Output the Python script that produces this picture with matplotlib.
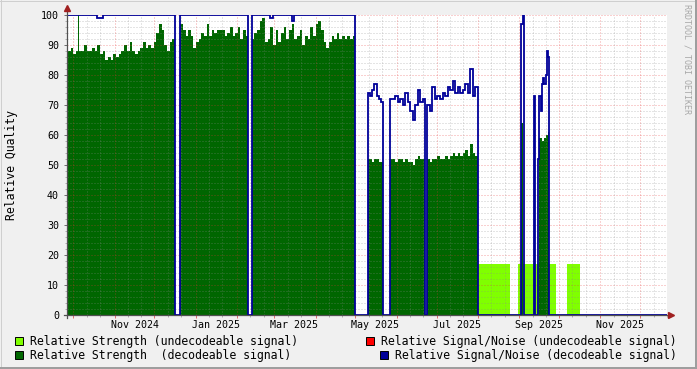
import numpy as np
import matplotlib
matplotlib.use("Agg")
import matplotlib.pyplot as plt
import matplotlib.dates as mdates
from matplotlib.patches import Rectangle
from matplotlib.lines import Line2D

LIGHT_GREEN = "#80ff00"
DARK_GREEN = "#006600"
RED = "#ff0000"
BLUE = "#000099"
BACK = "#f0f0f0"
MONO = "DejaVu Sans Mono"

X_START, X_END = "2024-09-26 07:00", "2025-12-16 14:00"

# recorded stretches: (start, end); values are evenly spaced across each stretch
SEG_A = ("2024-09-25 00:00", "2024-12-16 10:00")
STRENGTH_A = [89, 88, 89, 87, 88, 88, 88, 90, 88, 88, 89, 88, 90, 87, 88, 85, 86, 85, 87, 86,
              87, 88, 90, 88, 91, 88, 87, 88, 89, 91, 89, 90, 89, 91, 94, 97, 95, 90, 88, 91, 92]
SNR_A = [100, 100, 100, 100, 100, 100, 100, 100, 100, 100, 100, 100, 99, 99, 100, 100, 100, 100,
         100, 100, 100, 100, 100, 100, 100, 100, 100, 100, 100, 100, 100, 100, 100, 100, 100, 100,
         100, 100, 100, 100, 100]

SEG_B = ("2024-12-20 12:00", "2025-02-09 10:00")
STRENGTH_B = [97, 95, 93, 95, 93, 89, 91, 92, 94, 93, 97, 93, 95, 94, 95, 95, 95, 93, 94, 96,
              93, 94, 96, 92, 95, 93]
SNR_B = [100, 100, 100, 100, 100, 100, 100, 100, 100, 100, 100, 100, 100, 100, 100, 100, 100,
         100, 100, 100, 100, 100, 100, 100, 100, 100]

SEG_C = ("2025-02-11 22:00", "2025-05-01 00:00")
STRENGTH_C = [92, 94, 95, 98, 99, 91, 92, 96, 90, 95, 91, 94, 96, 92, 95, 97, 92, 93, 95, 90,
              93, 92, 96, 93, 97, 98, 95, 91, 89, 91, 93, 92, 94, 92, 93, 92, 93, 92, 93]
SNR_C = [100, 100, 100, 100, 100, 100, 100, 99, 100, 100, 100, 100, 100, 100, 100, 98, 100, 100,
         100, 100, 100, 100, 100, 100, 100, 100, 100, 100, 100, 100, 100, 100, 100, 100, 100, 100,
         100, 100, 100]

SEG_D = ("2025-05-10 05:00", "2025-05-21 19:00")
STRENGTH_D = [52, 52, 51, 52, 52, 51, 51]
SNR_D = [74, 73, 75, 77, 73, 72, 71]

SEG_E = ("2025-05-27 00:00", "2025-06-22 14:00")
STRENGTH_E = [52, 52, 51, 52, 52, 51, 52, 51, 51, 50, 52, 53, 52, 52]
SNR_E = [72, 72, 73, 71, 72, 70, 74, 71, 68, 65, 70, 75, 71, 72]

SEG_F = ("2025-06-24 00:00", "2025-08-01 00:00")
STRENGTH_F = [52, 51, 52, 52, 53, 52, 52, 53, 52, 53, 54, 53, 54, 53, 54, 55, 53, 57, 54, 53]
SNR_F = [70, 68, 76, 72, 73, 72, 74, 73, 76, 75, 78, 74, 76, 74, 75, 77, 74, 82, 73, 76]

# September bursts
SEG_G1 = ("2025-09-02 12:00", "2025-09-04 00:00")
STRENGTH_G1 = [64]
SEG_G2 = ("2025-09-16 02:00", "2025-09-23 12:00")
STRENGTH_G2 = [59, 59, 58, 59, 59, 60, 61]
SEG_S1 = ("2025-09-02 12:00", "2025-09-04 12:00")
SNR_S1 = [97, 100]
SEG_S2 = ("2025-09-11 22:00", "2025-09-13 02:00")
SNR_S2 = [73]
SEG_S3 = ("2025-09-15 05:00", "2025-09-23 14:00")
SNR_S3 = [52, 73, 68, 77, 79, 77, 80, 88, 86]

# single-sample spike in the first stretch
SEG_SPIKE = ("2024-10-04 12:00", "2024-10-05 06:00")
STRENGTH_SPIKE = [100]

# undecodeable signal strength
UNDEC_SEGS = [("2025-08-01 00:00", "2025-08-25 08:00"),
              ("2025-08-31 07:00", "2025-09-28 19:00"),
              ("2025-10-06 17:00", "2025-10-16 14:00")]
UNDEC_STRENGTH = [17, 17, 17]

X_LABELS = ["Nov 2024", "Jan 2025", "Mar 2025", "May 2025", "Jul 2025", "Sep 2025", "Nov 2025"]
X_LABEL_MONTHS = ["2024-11-01", "2025-01-01", "2025-03-01", "2025-05-01", "2025-07-01",
                  "2025-09-01", "2025-11-01"]


def edges(span, n):
    t0, t1 = (mdates.datestr2num(s) for s in span)
    return t0 + (t1 - t0) * np.arange(n + 1) / n


def area(ax, span, vals, color):
    e = edges(span, len(vals))
    ax.fill_between(e, np.r_[vals, vals[-1]], step="post", color=color, lw=0, zorder=2)


W, H = 697, 369
fig = plt.figure(figsize=(W / 100, H / 100), dpi=100, facecolor=BACK)
ax = fig.add_axes([67 / W, 1 - 315 / H, 600 / W, 300 / H])
ax.set_facecolor("white")
x0, x1 = mdates.datestr2num(X_START), mdates.datestr2num(X_END)
ax.set_xlim(x0, x1)
ax.set_ylim(0, 100)
for s in ax.spines.values():
    s.set_visible(False)

# areas
for span, v in zip(UNDEC_SEGS, UNDEC_STRENGTH):
    area(ax, span, [v], LIGHT_GREEN)
for span, vals in [(SEG_A, STRENGTH_A), (SEG_B, STRENGTH_B), (SEG_C, STRENGTH_C),
                   (SEG_D, STRENGTH_D), (SEG_E, STRENGTH_E), (SEG_F, STRENGTH_F),
                   (SEG_G1, STRENGTH_G1), (SEG_G2, STRENGTH_G2), (SEG_SPIKE, STRENGTH_SPIKE)]:
    area(ax, span, vals, DARK_GREEN)

# SNR line, zero between stretches
t, v = [x0 - 5], [0]
for span, vals in [(SEG_A, SNR_A), (SEG_B, SNR_B), (SEG_C, SNR_C), (SEG_D, SNR_D),
                   (SEG_E, SNR_E), (SEG_F, SNR_F), (SEG_S1, SNR_S1), (SEG_S2, SNR_S2),
                   (SEG_S3, SNR_S3)]:
    e = edges(span, len(vals))
    t.extend(e[:-1]); v.extend(vals)
    t.append(e[-1]); v.append(0)
t.append(x1 + 5); v.append(0)
ax.step(t, v, where="post", color=BLUE, lw=1.3, zorder=4, solid_joinstyle="miter")

# grid (dotted, drawn over the areas)
minor_c = (0.55, 0.55, 0.55, 0.45)
major_c = (0.9, 0.2, 0.2, 0.45)
months = np.arange("2024-10", "2026-01", dtype="datetime64[M]").astype("datetime64[D]")
major_x = mdates.date2num(months)
minor_x = mdates.date2num(np.concatenate([months + 10, months + 20]))
kw = dict(lw=0.72, zorder=3, dashes=(1, 2), dash_capstyle="butt")
for y in range(2, 101, 2):
    ax.axhline(y, color=major_c if y % 10 == 0 else minor_c, **kw)
for x in minor_x:
    ax.axvline(x, color=minor_c, **kw)
for x in major_x:
    ax.axvline(x, color=major_c, **kw)

# ticks
ax.set_yticks(range(0, 101, 10))
ax.set_yticks(range(0, 101, 2), minor=True)
ax.set_yticklabels([str(y) for y in range(0, 101, 10)], fontfamily=MONO, fontsize=7.2)
ax.tick_params(axis="y", which="major", length=2.2, width=0.72, color="#707070", pad=3.6)
ax.tick_params(axis="y", which="minor", length=1.4, width=0.72, color="#b0b0b0")
ax.set_xticks(major_x)
ax.set_xticks(minor_x, minor=True)
ax.set_xticklabels([])
ax.tick_params(axis="x", which="major", length=2.2, width=0.72, color="#e07070")
ax.tick_params(axis="x", which="minor", length=1.4, width=0.72, color="#b0b0b0")
xt = ax.get_xaxis_transform()
for lab, m in zip(X_LABELS, X_LABEL_MONTHS):
    ax.text(mdates.datestr2num(m) + 15, -0.034, lab, transform=xt, ha="center", va="center",
            fontfamily=MONO, fontsize=7.2, color="black")

# axes with arrows
axis_c = "#505050"
ax.add_line(Line2D([0, 0], [-0.01, 1.012], transform=ax.transAxes, color=axis_c, lw=0.9,
                   clip_on=False, zorder=5))
ax.add_line(Line2D([-0.005, 1.002], [0, 0], transform=ax.transAxes, color=axis_c, lw=0.9,
                   clip_on=False, zorder=5))
ax.plot([0], [1.022], marker="^", ms=4, color="#a02020", mec="#a02020", transform=ax.transAxes,
        clip_on=False, zorder=6)
ax.plot([1.007], [0], marker=">", ms=4, color="#a02020", mec="#a02020", transform=ax.transAxes,
        clip_on=False, zorder=6)

# labels
fig.text(12 / W, 1 - 165 / H, "Relative Quality", rotation=90, ha="center", va="center",
         fontfamily=MONO, fontsize=8.3)
fig.text(687 / W, 1 - 4 / H, "RRDTOOL / TOBI OETIKER", rotation=270, ha="center", va="top",
         fontfamily=MONO, fontsize=6, color="#a8a8a8")

# legend
legend = [(15, 341, LIGHT_GREEN, "Relative Strength (undecodeable signal)"),
          (15, 355, DARK_GREEN, "Relative Strength  (decodeable signal)"),
          (366, 341, RED, "Relative Signal/Noise (undecodeable signal)"),
          (380, 355, BLUE, "Relative Signal/Noise (decodeable signal)")]
for lx, ly, col, txt in legend:
    fig.patches.append(Rectangle((lx / W, 1 - (ly + 4) / H), 8 / W, 8 / H, transform=fig.transFigure,
                                 facecolor=col, edgecolor="black", lw=0.7))
    fig.text((lx + 15) / W, 1 - ly / H, txt, ha="left", va="center", fontfamily=MONO, fontsize=8.3)

# frame shading
fig.add_artist(Line2D([0, 1], [1 - 0.5 / H] * 2, transform=fig.transFigure, color="#cfcfcf", lw=0.72))
fig.add_artist(Line2D([0.5 / W] * 2, [0, 1], transform=fig.transFigure, color="#cfcfcf", lw=0.72))
fig.add_artist(Line2D([0, 1], [1 / H] * 2, transform=fig.transFigure, color="#9e9e9e", lw=1.44))
fig.add_artist(Line2D([1 - 1 / W] * 2, [0, 1], transform=fig.transFigure, color="#9e9e9e", lw=1.44))

fig.savefig("out.png", dpi=100, facecolor=BACK)
